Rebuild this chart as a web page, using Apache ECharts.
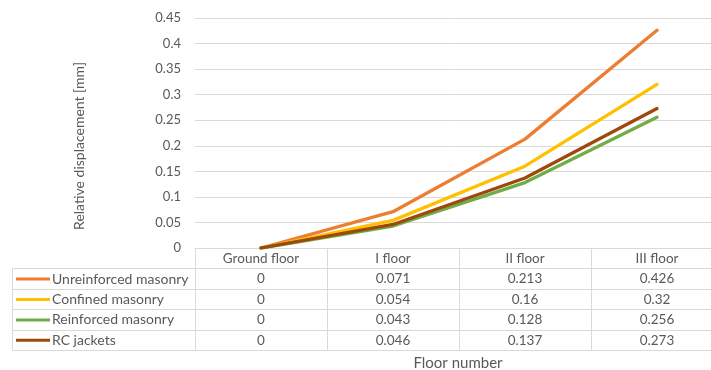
<!DOCTYPE html>
<html>
<head>
<meta charset="utf-8">
<script src="https://cdn.jsdelivr.net/npm/echarts@6/dist/echarts.min.js"></script>
<style>
  html, body { margin: 0; padding: 0; background: #fff; }
  #chart { width: 711px; height: 370px; }
</style>
</head>
<body>
<div id="chart"></div>
<script>
// Floors along the x axis and relative displacement per structural system
const floors = ['Ground floor', 'I floor', 'II floor', 'III floor'];
const seriesNames = ['Unreinforced masonry', 'Confined masonry', 'Reinforced masonry', 'RC jackets'];
const unreinforced = [0, 0.071, 0.213, 0.426];
const confined = [0, 0.054, 0.16, 0.32];
const reinforced = [0, 0.043, 0.128, 0.256];
const rcJackets = [0, 0.046, 0.137, 0.273];
const yTicks = [0, 0.05, 0.1, 0.15, 0.2, 0.25, 0.3, 0.35, 0.4, 0.45];

const colors = ['#ED7D31', '#FFC000', '#70AD47', '#9E480E'];
const allValues = [unreinforced, confined, reinforced, rcJackets];
const FONT = 'Lato';
const TXT = '#595959';
const RULE = '#d9d9d9';

const chart = echarts.init(document.getElementById('chart'), null, { renderer: 'canvas' });

const option = {
  animation: false,
  backgroundColor: '#fff',
  // the plot area runs slightly past the right edge of the canvas
  grid: {
    left: 195, width: 528, top: 18, bottom: 122,
    containLabel: false, outerBoundsMode: 'none'
  },
  xAxis: {
    type: 'category',
    data: floors,
    boundaryGap: true,
    axisLine: { show: true, lineStyle: { color: RULE, width: 1 } },
    axisTick: { show: false },
    axisLabel: { show: false }
  },
  yAxis: {
    type: 'value',
    min: 0,
    max: 0.45,
    interval: 0.05,
    axisLine: { show: false },
    axisTick: { show: false },
    axisLabel: {
      color: TXT, fontFamily: FONT, fontSize: 13, margin: 14,
      formatter: v => {
        const t = yTicks.find(k => Math.abs(k - v) < 1e-9);
        return String(t !== undefined ? t : v);
      }
    },
    splitLine: { lineStyle: { color: RULE, width: 1 } }
  },
  series: seriesNames.map((name, i) => ({
    name,
    type: 'line',
    data: allValues[i],
    symbol: 'none',
    lineStyle: { color: colors[i], width: 3.3, cap: 'round' },
    z: i === 3 ? 4 : 3
  }))
};

chart.setOption(option);

// Data table drawn beneath the plot, aligned to the category axis
function buildTable() {
  const xs = floors.map((f, i) => chart.convertToPixel({ xAxisIndex: 0 }, i));
  const half = (xs[1] - xs[0]) / 2;
  const top = chart.convertToPixel({ yAxisIndex: 0 }, 0);
  const rowH = 20.4;
  const nRows = seriesNames.length + 1;
  const bottom = top + rowH * nRows;
  const leftEdge = 12;
  const g = [];
  const line = (x1, y1, x2, y2) => g.push({
    type: 'line', silent: true,
    shape: { x1, y1, x2, y2 },
    style: { stroke: RULE, lineWidth: 1 }
  });
  const text = (x, y, s, align, size) => g.push({
    type: 'text', silent: true, x, y,
    style: { text: s, fill: TXT, font: (size || 13.5) + 'px ' + FONT, align: align || 'center', verticalAlign: 'middle' }
  });

  // vertical rules at the category boundaries
  const bounds = xs.map(x => x - half).concat([xs[xs.length - 1] + half]);
  bounds.forEach(b => line(Math.round(b) + 0.5, top, Math.round(b) + 0.5, bottom));
  line(leftEdge + 0.5, top + rowH, leftEdge + 0.5, bottom);
  // horizontal rules
  for (let r = 1; r <= nRows; r++) {
    const y = Math.round(top + rowH * r) + 0.5;
    line(leftEdge, y, bounds[bounds.length - 1], y);
  }
  // header row
  floors.forEach((f, i) => text(xs[i], top + rowH / 2 + 0.5, f));
  // value rows with legend keys
  seriesNames.forEach((name, r) => {
    const cy = top + rowH * (r + 1.5) + 0.5;
    g.push({
      type: 'line', silent: true,
      shape: { x1: 16, y1: cy, x2: 50, y2: cy },
      style: { stroke: colors[r], lineWidth: 3 }
    });
    text(52, cy, name, 'left', 14);
    allValues[r].forEach((v, i) => text(xs[i], cy, String(v)));
  });
  // axis titles
  text(458, bottom + 13, 'Floor number', 'center', 15);
  g.push({
    type: 'text', silent: true, x: 79, y: 146, rotation: Math.PI / 2,
    style: { text: 'Relative displacement [mm]', fill: TXT, font: '14px ' + FONT, align: 'center', verticalAlign: 'middle' }
  });
  chart.setOption({ graphic: { elements: g } });
}
buildTable();
</script>
</body>
</html>
